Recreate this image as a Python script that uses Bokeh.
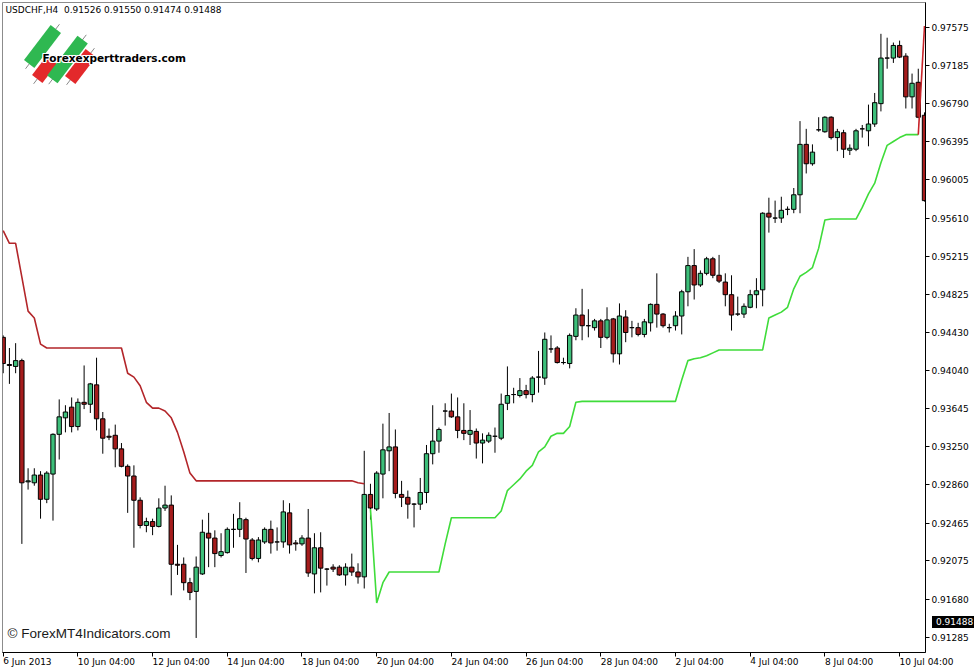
import math
from bokeh.plotting import figure
from bokeh.models import Range1d, FixedTicker, PrintfTickFormatter, Label, Div
from bokeh.layouts import column
from bokeh.embed import file_html
from bokeh.resources import INLINE

# ---------------- data (USDCHF H4) ----------------
opens = [0.9438, 0.9410, 0.9408, 0.9414, 0.9289, 0.9288, 0.9296, 0.9271, 0.9297, 0.9338,
         0.9355, 0.9366, 0.9346, 0.9371, 0.9369, 0.9389, 0.9354, 0.9336, 0.9337, 0.9323,
         0.9305, 0.9295, 0.9270, 0.9244, 0.9248, 0.9243, 0.9262, 0.9265, 0.9204, 0.9204,
         0.9185, 0.9176, 0.9194, 0.9236, 0.9231, 0.9213, 0.9216, 0.9240, 0.9240, 0.9250,
         0.9229, 0.9210, 0.9227, 0.9240, 0.9227, 0.9227, 0.9257, 0.9226, 0.9225, 0.9231,
         0.9194, 0.9221, 0.9199, 0.9201, 0.9201, 0.9193, 0.9201, 0.9196, 0.9191, 0.9276,
         0.9261, 0.9297, 0.9321, 0.9325, 0.9276, 0.9273, 0.9266, 0.9266, 0.9278, 0.9318,
         0.9331, 0.9362, 0.9362, 0.9356, 0.9342, 0.9338, 0.9341, 0.9329, 0.9331, 0.9336,
         0.9334, 0.9370, 0.9379, 0.9378, 0.9383, 0.9379, 0.9397, 0.9396, 0.9426, 0.9427,
         0.9412, 0.9411, 0.9439, 0.9461, 0.9450, 0.9448, 0.9455, 0.9438, 0.9457, 0.9421,
         0.9459, 0.9448, 0.9448, 0.9441, 0.9453, 0.9472, 0.9462, 0.9448, 0.9450, 0.9460,
         0.9485, 0.9512, 0.9492, 0.9504, 0.9519, 0.9502, 0.9495, 0.9482, 0.9462, 0.9462,
         0.9469, 0.9482, 0.9487, 0.9566, 0.9561, 0.9561, 0.9570, 0.9570, 0.9585, 0.9637,
         0.9617, 0.9652, 0.9650, 0.9665, 0.9644, 0.9649, 0.9631, 0.9632, 0.9653, 0.9651,
         0.9658, 0.9679, 0.9726, 0.9726, 0.9739, 0.9728, 0.9686, 0.9701, 0.9667]
highs = [0.9440, 0.9427, 0.9432, 0.9416, 0.9303, 0.9303, 0.9300, 0.9300, 0.9339, 0.9374,
         0.9368, 0.9376, 0.9375, 0.9409, 0.9391, 0.9417, 0.9361, 0.9344, 0.9348, 0.9329,
         0.9307, 0.9306, 0.9273, 0.9252, 0.9251, 0.9272, 0.9285, 0.9275, 0.9224, 0.9211,
         0.9190, 0.9212, 0.9250, 0.9257, 0.9239, 0.9236, 0.9242, 0.9256, 0.9268, 0.9252,
         0.9231, 0.9232, 0.9242, 0.9249, 0.9242, 0.9270, 0.9267, 0.9229, 0.9234, 0.9261,
         0.9236, 0.9237, 0.9200, 0.9204, 0.9203, 0.9205, 0.9215, 0.9205, 0.9321, 0.9287,
         0.9300, 0.9349, 0.9360, 0.9343, 0.9290, 0.9280, 0.9267, 0.9293, 0.9327, 0.9368,
         0.9345, 0.9370, 0.9380, 0.9376, 0.9370, 0.9363, 0.9344, 0.9339, 0.9340, 0.9345,
         0.9380, 0.9408, 0.9386, 0.9396, 0.9389, 0.9398, 0.9424, 0.9443, 0.9440, 0.9429,
         0.9417, 0.9442, 0.9468, 0.9488, 0.9467, 0.9457, 0.9457, 0.9469, 0.9458, 0.9473,
         0.9466, 0.9455, 0.9453, 0.9457, 0.9473, 0.9504, 0.9463, 0.9452, 0.9465, 0.9487,
         0.9521, 0.9529, 0.9507, 0.9521, 0.9521, 0.9523, 0.9504, 0.9502, 0.9480, 0.9473,
         0.9487, 0.9499, 0.9567, 0.9582, 0.9579, 0.9583, 0.9573, 0.9592, 0.9661, 0.9653,
         0.9637, 0.9665, 0.9666, 0.9666, 0.9653, 0.9652, 0.9637, 0.9653, 0.9657, 0.9678,
         0.9690, 0.9751, 0.9747, 0.9742, 0.9744, 0.9731, 0.9710, 0.9715, 0.9670]
lows = [0.9401, 0.9390, 0.9401, 0.9225, 0.9281, 0.9285, 0.9251, 0.9267, 0.9249, 0.9312,
        0.9340, 0.9340, 0.9342, 0.9364, 0.9360, 0.9342, 0.9318, 0.9332, 0.9304, 0.9304,
        0.9257, 0.9221, 0.9241, 0.9237, 0.9234, 0.9242, 0.9259, 0.9172, 0.9193, 0.9177,
        0.9167, 0.9128, 0.9193, 0.9201, 0.9201, 0.9211, 0.9215, 0.9221, 0.9232, 0.9195,
        0.9208, 0.9206, 0.9225, 0.9215, 0.9218, 0.9221, 0.9215, 0.9218, 0.9223, 0.9191,
        0.9174, 0.9175, 0.9182, 0.9196, 0.9192, 0.9182, 0.9192, 0.9184, 0.9179, 0.9250,
        0.9259, 0.9272, 0.9300, 0.9272, 0.9263, 0.9251, 0.9242, 0.9260, 0.9267, 0.9307,
        0.9319, 0.9347, 0.9355, 0.9334, 0.9332, 0.9327, 0.9313, 0.9308, 0.9329, 0.9319,
        0.9332, 0.9363, 0.9370, 0.9376, 0.9375, 0.9371, 0.9381, 0.9389, 0.9422, 0.9411,
        0.9410, 0.9406, 0.9435, 0.9435, 0.9438, 0.9445, 0.9427, 0.9436, 0.9412, 0.9410,
        0.9433, 0.9438, 0.9439, 0.9438, 0.9444, 0.9448, 0.9448, 0.9443, 0.9445, 0.9441,
        0.9470, 0.9477, 0.9490, 0.9502, 0.9499, 0.9494, 0.9470, 0.9445, 0.9460, 0.9458,
        0.9468, 0.9468, 0.9470, 0.9546, 0.9556, 0.9556, 0.9564, 0.9566, 0.9566, 0.9607,
        0.9615, 0.9650, 0.9649, 0.9642, 0.9630, 0.9623, 0.9626, 0.9630, 0.9644, 0.9635,
        0.9655, 0.9671, 0.9715, 0.9721, 0.9726, 0.9674, 0.9674, 0.9664, 0.9578]
closes = [0.9411, 0.9409, 0.9414, 0.9288, 0.9290, 0.9296, 0.9271, 0.9298, 0.9338, 0.9356,
          0.9361, 0.9346, 0.9371, 0.9369, 0.9390, 0.9354, 0.9334, 0.9335, 0.9323, 0.9305,
          0.9295, 0.9270, 0.9244, 0.9248, 0.9243, 0.9262, 0.9265, 0.9204, 0.9203, 0.9185,
          0.9175, 0.9201, 0.9237, 0.9231, 0.9215, 0.9217, 0.9240, 0.9240, 0.9251, 0.9230,
          0.9210, 0.9229, 0.9240, 0.9226, 0.9227, 0.9258, 0.9224, 0.9225, 0.9231, 0.9195,
          0.9221, 0.9200, 0.9199, 0.9199, 0.9193, 0.9201, 0.9196, 0.9191, 0.9276, 0.9262,
          0.9298, 0.9322, 0.9325, 0.9277, 0.9273, 0.9266, 0.9266, 0.9278, 0.9318, 0.9331,
          0.9343, 0.9362, 0.9356, 0.9342, 0.9339, 0.9342, 0.9329, 0.9332, 0.9337, 0.9336,
          0.9369, 0.9378, 0.9379, 0.9383, 0.9379, 0.9396, 0.9397, 0.9436, 0.9426, 0.9412,
          0.9412, 0.9440, 0.9461, 0.9450, 0.9450, 0.9455, 0.9438, 0.9456, 0.9421, 0.9460,
          0.9443, 0.9448, 0.9441, 0.9454, 0.9472, 0.9462, 0.9450, 0.9448, 0.9460, 0.9485,
          0.9512, 0.9492, 0.9504, 0.9519, 0.9502, 0.9496, 0.9482, 0.9461, 0.9462, 0.9470,
          0.9482, 0.9486, 0.9566, 0.9562, 0.9561, 0.9569, 0.9570, 0.9585, 0.9637, 0.9617,
          0.9629, 0.9652, 0.9665, 0.9644, 0.9650, 0.9632, 0.9633, 0.9651, 0.9653, 0.9658,
          0.9680, 0.9726, 0.9726, 0.9739, 0.9727, 0.9686, 0.9700, 0.9665, 0.9579]

# trailing-stop indicator: red buffer (down trend) then green buffer (up trend)
stop_red = [0.9548, 0.9535, 0.9535, 0.9500, 0.9465, 0.9458, 0.9431,
            0.9427, 0.9427, 0.9427, 0.9427, 0.9427, 0.9427, 0.9427, 0.9427, 0.9427, 0.9427,
            0.9427, 0.9427, 0.9427,
            0.9401, 0.9397, 0.9388, 0.9371, 0.9365, 0.9365, 0.9362, 0.9355, 0.9340, 0.9320,
            0.9298,
            0.9290, 0.9290, 0.9290, 0.9290, 0.9290, 0.9290, 0.9290, 0.9290, 0.9290, 0.9290,
            0.9290, 0.9290, 0.9290, 0.9290, 0.9290, 0.9290, 0.9290, 0.9290, 0.9290, 0.9290,
            0.9290, 0.9290, 0.9290, 0.9290, 0.9290, 0.9290,
            0.9288, 0.9287]
stop_green = [0.9261, 0.9164, 0.9185,
              0.9196, 0.9196, 0.9196, 0.9196, 0.9196, 0.9196, 0.9196, 0.9196, 0.9196,
              0.9225,
              0.9252, 0.9252, 0.9252, 0.9252, 0.9252, 0.9252, 0.9252, 0.9252,
              0.9259, 0.9280, 0.9286, 0.9292, 0.9300, 0.9306, 0.9320, 0.9325, 0.9336, 0.9339,
              0.9339, 0.9346, 0.9371,
              0.9372, 0.9372, 0.9372, 0.9372, 0.9372, 0.9372, 0.9372, 0.9372, 0.9372, 0.9372,
              0.9372, 0.9372, 0.9372, 0.9372, 0.9372, 0.9372,
              0.9394, 0.9414, 0.9416, 0.9417, 0.9419, 0.9422,
              0.9425, 0.9425, 0.9425, 0.9425, 0.9425, 0.9425, 0.9425, 0.9425,
              0.9458, 0.9461, 0.9464, 0.9469, 0.9488, 0.9501, 0.9505, 0.9510, 0.9530, 0.9559,
              0.9560, 0.9560, 0.9560, 0.9560, 0.9560,
              0.9572, 0.9586, 0.9597, 0.9618, 0.9636, 0.9640, 0.9644, 0.9647, 0.9647, 0.9647]
stop_red_end = [0.9647, 0.9759]

x_tick_bars = [0, 12, 24, 36, 48, 60, 72, 84, 96, 108, 120, 132, 144]
x_tick_labels = ["6 Jun 2013", "10 Jun 04:00", "12 Jun 04:00", "14 Jun 04:00", "18 Jun 04:00",
                 "20 Jun 04:00", "24 Jun 04:00", "26 Jun 04:00", "28 Jun 04:00", "2 Jul 04:00",
                 "4 Jul 04:00", "8 Jul 04:00", "10 Jul 04:00"]
y_ticks = [0.97575, 0.97185, 0.96790, 0.96395, 0.96005, 0.95610, 0.95215, 0.94825, 0.94430,
           0.94040, 0.93645, 0.93250, 0.92860, 0.92465, 0.92075, 0.91680, 0.91285]
header = "USDCHF,H4\u00a0\u00a00.91526 0.91550 0.91474 0.91488"
bid_price = 0.91488

# ---------------- figure ----------------
XR = (-0.11, 148.16)
YR = (0.91130, 0.97833)
FL, FT, FW, FH = 2, 2, 923, 650

p = figure(frame_width=FW, frame_height=FH, x_range=Range1d(*XR), y_range=Range1d(*YR),
           output_backend="svg", toolbar_location=None, x_axis_location="below",
           y_axis_location="right", min_border_left=FL, min_border_top=FT,
           min_border_right=52, min_border_bottom=20)
p.background_fill_color = "white"
p.border_fill_color = "white"
p.outline_line_color = "#8c8c8c"
p.grid.visible = False

def px2x(px):
    return XR[0] + (px - FL) / FW * (XR[1] - XR[0])

def py2y(py):
    return YR[1] - (py - FT) / FH * (YR[1] - YR[0])

FONT = "DejaVu Sans"

ax = p.yaxis[0]
ax.ticker = FixedTicker(ticks=y_ticks)
ax.formatter = PrintfTickFormatter(format="%.5f")
ax.major_tick_out = 4
ax.major_tick_in = 0
ax.minor_tick_out = 0
ax.minor_tick_in = 0
ax.major_label_standoff = 2
ax.major_label_text_font = FONT
ax.major_label_text_font_size = "9px"
ax.major_label_text_color = "black"
ax.axis_line_color = "black"
ax.major_tick_line_color = "black"

bx = p.xaxis[0]
bx.ticker = FixedTicker(ticks=x_tick_bars)
bx.major_label_overrides = {t: lab for t, lab in zip(x_tick_bars, x_tick_labels)}
bx.major_label_orientation = -0.0001   # tiny clockwise tilt -> labels start at the tick
bx.major_tick_out = 4
bx.major_tick_in = 0
bx.minor_tick_out = 0
bx.minor_tick_in = 0
bx.major_label_standoff = 5
bx.major_label_text_font = FONT
bx.major_label_text_font_size = "9px"
bx.major_label_text_color = "black"
bx.axis_line_color = "black"

# ---------------- candles ----------------
idx = list(range(len(opens)))
up = [i for i in idx if closes[i] >= opens[i]]
dn = [i for i in idx if closes[i] < opens[i]]

p.segment(x0=idx, y0=lows, x1=idx, y1=highs, line_color="black", line_width=1)
p.vbar(x=up, top=[closes[i] for i in up], bottom=[opens[i] for i in up], width=0.7,
       fill_color="#3dbf7a", line_color="black", line_width=1)
p.vbar(x=dn, top=[opens[i] for i in dn], bottom=[closes[i] for i in dn], width=0.7,
       fill_color="#a51c1c", line_color="black", line_width=1)

# ---------------- trailing stop lines ----------------
red_x = list(range(0, len(stop_red)))
green_x = list(range(len(stop_red), len(stop_red) + len(stop_green)))
p.line(red_x, stop_red, line_color="#b3262a", line_width=1.6)
p.line(green_x, stop_green, line_color="#3fdc3a", line_width=1.6)
p.line([green_x[-1], green_x[-1] + 1], stop_red_end, line_color="#c8242a", line_width=1.6)

# ---------------- logo (decoration) ----------------
sxr = (XR[1] - XR[0]) / FW
syr = (YR[1] - YR[0]) / FH
ang = 0.92
logo = [  # (px x, px y, length, colour)
    (44, 69, 24, "#e3292b"),
    (42, 46, 44, "#2fb851"),
    (80, 66, 34, "#e3292b"),
    (67, 59, 50, "#2fb851"),
]
for cx, cy, ln, col in logo:
    hx = math.cos(ang) * (ln / 2 + 6) * sxr
    hy = math.sin(ang) * (ln / 2 + 6) * syr
    X, Y = px2x(cx), py2y(cy)
    p.segment(x0=[X - hx], y0=[Y - hy], x1=[X + hx], y1=[Y + hy], line_color="#8a8a8a", line_width=1)
    p.rect(x=[X], y=[Y], width=[ln], height=[13], width_units="screen", height_units="screen",
           angle=ang, fill_color=col, line_color=None)

# white halo under the logo text, then the black bold text on top
for dxp, dyp in [(-1, 0), (1, 0), (0, -1), (0, 1), (-1, -1), (1, 1), (-1, 1), (1, -1)]:
    p.add_layout(Label(x=px2x(42), y=py2y(57), x_offset=dxp, y_offset=dyp,
                       text="Forexexperttraders.com", text_font=FONT, text_font_style="bold",
                       text_font_size="10.5px", text_color="white",
                       text_baseline="middle", text_align="left"))
p.add_layout(Label(x=px2x(42), y=py2y(57), text="Forexexperttraders.com", text_font=FONT,
                   text_font_style="bold", text_font_size="10.5px", text_color="black",
                   text_baseline="middle", text_align="left"))

# ---------------- texts ----------------
p.add_layout(Label(x=px2x(5), y=py2y(9), text=header, text_font=FONT, text_font_size="9px",
                   text_color="black", text_baseline="middle", text_align="left"))
p.add_layout(Label(x=px2x(7), y=py2y(633), text="\u00a9 ForexMT4Indicators.com",
                   text_font="Liberation Sans", text_font_size="13.5px", text_color="#1a1a1a",
                   text_baseline="middle", text_align="left"))

# current bid tag on the price scale
tag = Div(text="%.5f" % bid_price, width=42, height=12,
          styles={"position": "absolute", "left": "927px", "top": "611px",
                  "background-color": "black", "color": "white", "font-family": FONT,
                  "font-size": "9px", "line-height": "12px", "padding-left": "4px",
                  "box-sizing": "border-box"})

layout = column(p, tag)
open("out.html", "w").write(file_html(layout, INLINE))
